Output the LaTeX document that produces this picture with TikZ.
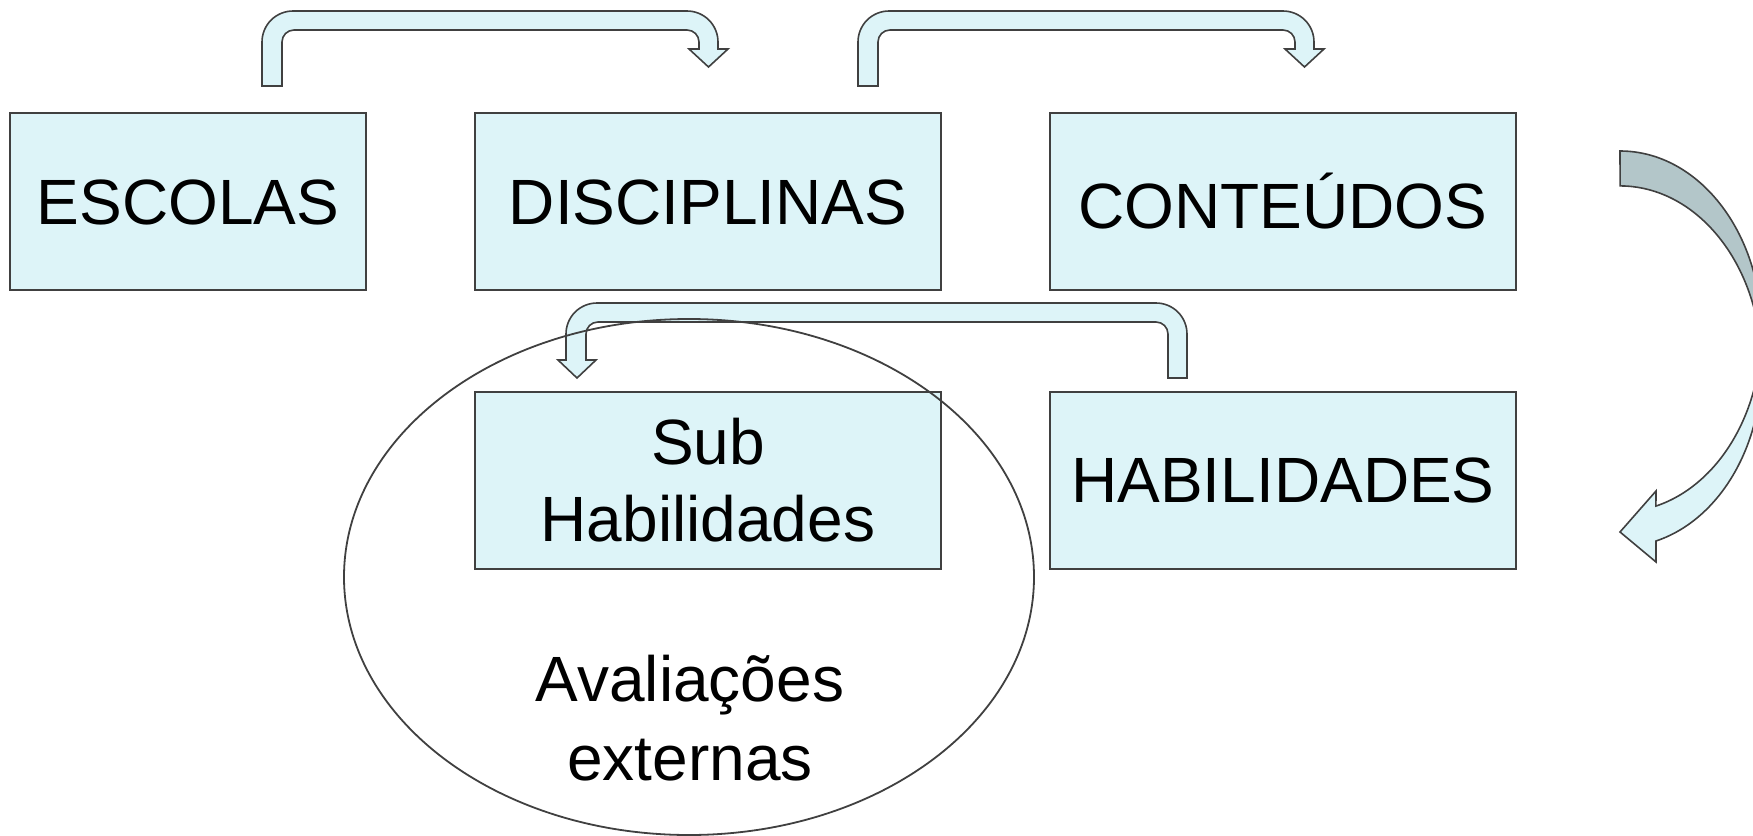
\documentclass[tikz,border=0pt]{standalone}
\usepackage{fontspec}
\setmainfont{Liberation Sans}
\begin{document}
\begin{tikzpicture}[x=0.5pt,y=-0.5pt,
  lineclr/.style={draw=black!75},
  box/.style={lineclr, line width=1pt, fill=boxfill, minimum width=233pt, minimum height=88.5pt, inner sep=0pt,
    font=\fontsize{32}{38.5}\selectfont, align=center},
  blockarrow/.style={lineclr, line width=0.8pt, fill=boxfill},
  lbl/.style={font=\fontsize{32}{39.5}\selectfont, align=center, inner sep=0pt}]
\definecolor{boxfill}{HTML}{DDF4F8}
\definecolor{backfill}{HTML}{B3C6C9}
\useasboundingbox (0,0) rectangle (1753,836);

% boxes
\node[box, minimum width=178pt] (esc) at (188,201.5) {\rule{0pt}{23pt}ESCOLAS};
\node[box] (dis) at (708,201.5) {\rule{0pt}{23pt}DISCIPLINAS};
\node[box] (con) at (1283,201.5) {\rule{0pt}{23pt}CONTEÚDOS};
\node[box] (sub) at (708,480) {Sub\\Habilidades};
\node[box] (hab) at (1283,480) {\rule{0pt}{23pt}HABILIDADES};

% bent arrow ESCOLAS -> DISCIPLINAS
\draw[blockarrow] (262,86) -- (262,42) arc[start angle=180,end angle=90,radius=15.5pt]
  -- (687,11) arc[start angle=90,end angle=0,radius=15.5pt]
  -- (718,49) -- (728,49) -- (708.5,67) -- (689,49) -- (699,49)
  -- (699,42) arc[start angle=0,end angle=90,radius=6pt]
  -- (294,30) arc[start angle=90,end angle=180,radius=6pt]
  -- (282,86) -- cycle;

% bent arrow DISCIPLINAS -> CONTEUDOS
\begin{scope}[xshift=298pt]
\draw[blockarrow] (262,86) -- (262,42) arc[start angle=180,end angle=90,radius=15.5pt]
  -- (687,11) arc[start angle=90,end angle=0,radius=15.5pt]
  -- (718,49) -- (728,49) -- (708.5,67) -- (689,49) -- (699,49)
  -- (699,42) arc[start angle=0,end angle=90,radius=6pt]
  -- (294,30) arc[start angle=90,end angle=180,radius=6pt]
  -- (282,86) -- cycle;
\end{scope}

% bent arrow HABILIDADES -> Sub Habilidades
\draw[blockarrow] (1187,378) -- (1187,334) arc[start angle=0,end angle=90,radius=15.5pt]
  -- (597,303) arc[start angle=90,end angle=180,radius=15.5pt]
  -- (566,360) -- (558,360) -- (577,378) -- (596,360) -- (586,360)
  -- (586,334) arc[start angle=180,end angle=90,radius=6pt]
  -- (1156,322) arc[start angle=90,end angle=0,radius=6pt]
  -- (1168,378) -- cycle;

% curved arrow on the right
\fill[backfill] (1620,151) arc[start angle=90,end angle=0,x radius=70.75pt,y radius=90.25pt]
  -- (1761.5,366.5) arc[start angle=0,end angle=90,x radius=70.75pt,y radius=90.25pt] -- cycle;
\fill[boxfill] (1761.5,331.5) arc[start angle=0,end angle=-75.3,x radius=70.75pt,y radius=90.25pt]
  -- (1656,491) -- (1620,532) -- (1656,562) -- (1656,541)
  arc[start angle=-75.3,end angle=0,x radius=70.75pt,y radius=90.25pt] -- cycle;
\draw[lineclr, line width=0.8pt] (1620,151) arc[start angle=90,end angle=-75.3,x radius=70.75pt,y radius=90.25pt]
  -- (1656,491) -- (1620,532) -- (1656,562) -- (1656,541)
  arc[start angle=-75.3,end angle=90,x radius=70.75pt,y radius=90.25pt] -- cycle;

% ellipse and its label
\draw[lineclr, line width=0.9pt] (689,577) ellipse [x radius=172.5pt, y radius=129pt];
\node[lbl] (aval) at (690,718) {Avaliações\\externas};
\end{tikzpicture}
\end{document}
